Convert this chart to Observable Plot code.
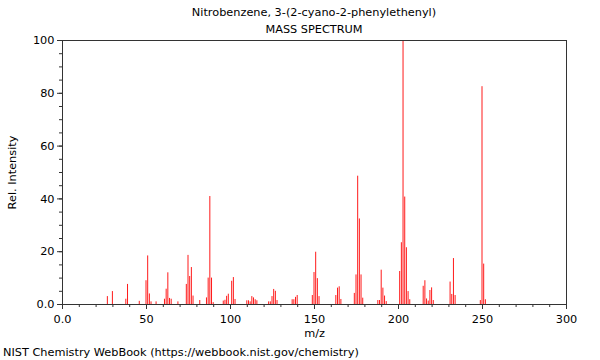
<!DOCTYPE html>
<html><head><meta charset="utf-8">
<script src="https://cdn.jsdelivr.net/npm/d3@7"></script>
<script src="https://cdn.jsdelivr.net/npm/@observablehq/plot@0.6"></script>
<style>
body{margin:0;background:#fff;font-family:"DejaVu Sans",sans-serif;color:#000;}
#head{width:600px;box-sizing:border-box;padding:4px 34px 0 62px;text-align:center;font-size:11.3px;line-height:17px;height:38px;}
#foot{padding:5px 0 0 3px;font-size:11.3px;line-height:16px;}
#chart svg{display:block;}
</style></head><body>
<div id="head"><div>Nitrobenzene, 3-(2-cyano-2-phenylethenyl)</div><div>MASS SPECTRUM</div></div>
<div id="chart"></div>
<div id="foot">NIST Chemistry WebBook (https://webbook.nist.gov/chemistry)</div>
<script>
const mz = [27,30,38,39,46,50,51,52,53,56,61,62,63,64,65,69,74,75,76,77,78,82,86,87,88,89,90,96,97,98,99,101,102,103,110,111,112,113,114,115,116,123,124,125,126,127,128,137,138,139,140,149,150,151,152,153,163,164,165,166,174,175,176,177,178,179,188,189,190,191,192,193,201,202,203,204,205,206,207,215,216,217,218,219,220,221,231,232,233,234,249,250,251,252];
const intensity = [3,4.9,2,7.6,1.2,9,18.4,4,1,1,2,5.8,12,2.3,2,1,7.6,18.6,10.6,14,3.2,1.5,2.5,10,40.9,10,0.7,1.3,1.6,3.1,3.9,8.8,10.2,1.9,1.4,1.4,1,3,2.5,1.8,1.4,1,1,3,5.7,5,1.5,1.8,1.8,2.7,3.4,3.4,12.1,19.8,9.8,3,3.4,6.2,6.7,1.9,4.2,11.2,48.6,32.4,11.2,2.4,1.5,1.5,13,6.2,3.2,1.1,12.5,23.4,100,40.7,21.5,4.9,1.8,6.9,9,2.1,1.3,5.3,6.3,1.5,8.5,3.8,17.4,3.4,1.5,82.5,15.3,1.8];
const xMajorTicks = [0,50,100,150,200,250,300];
const xTickLabels = ["0.0","50","100","150","200","250","300"];
const xMinorTicks = [0,10,20,30,40,50,60,70,80,90,100,110,120,130,140,150,160,170,180,190,200,210,220,230,240,250,260,270,280,290,300];
const yMajorTicks = [0,20,40,60,80,100];
const yTickLabels = ["0.0","20","40","60","80","100"];
const yMinorTicks = [0,5,10,15,20,25,30,35,40,45,50,55,60,65,70,75,80,85,90,95,100];

const data = mz.map((m, i) => ({mz: m, intensity: intensity[i]}));
const chart = Plot.plot({
  width: 600, height: 302,
  marginTop: 2, marginLeft: 62, marginRight: 34, marginBottom: 36,
  style: {fontFamily: "DejaVu Sans", fontSize: "11.3px", background: "white", overflow: "visible", color: "#000"},
  x: {domain: [0, 300]},
  y: {domain: [0, 100]},
  marks: [
    Plot.ruleX(data, {x: "mz", y1: 0, y2: "intensity", stroke: "#ff1a1a", strokeWidth: 1, dx: -0.5}),
    Plot.axisX({ticks: xMinorTicks, tickSize: 3, tickFormat: () => "", label: null, stroke: "#333"}),
    Plot.axisX({ticks: xMajorTicks, tickSize: 5, tickPadding: 5, tickFormat: d => xTickLabels[xMajorTicks.indexOf(d)], label: "m/z", labelAnchor: "center", labelOffset: 32, labelArrow: "none", stroke: "#333"}),
    Plot.axisY({ticks: yMinorTicks, tickSize: 3, tickFormat: () => "", label: null, stroke: "#333"}),
    Plot.axisY({ticks: yMajorTicks, tickSize: 5, tickPadding: 3, tickFormat: d => yTickLabels[yMajorTicks.indexOf(d)], label: "Rel. Intensity", labelAnchor: "center", labelOffset: 55, labelArrow: "none", stroke: "#333"}),
    Plot.frame({stroke: "#333"})
  ]
});
document.getElementById("chart").appendChild(chart);
</script>
</body></html>
